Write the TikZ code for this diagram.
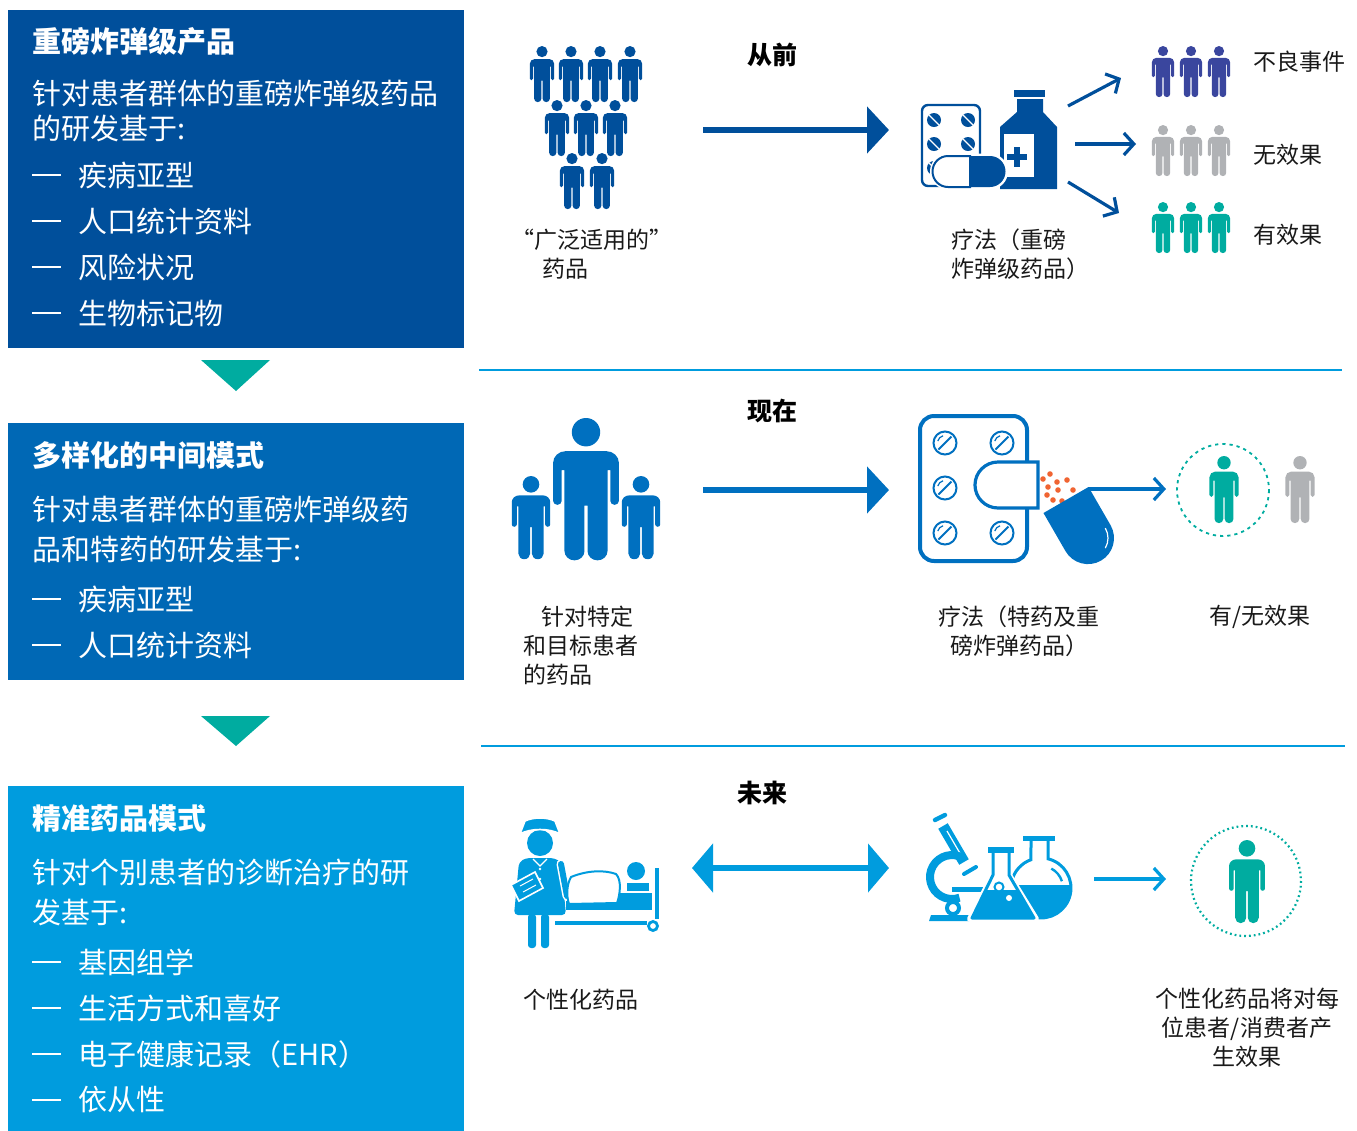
\documentclass[tikz,border=0pt]{standalone}
\usepackage{fontspec}
\setmainfont{Noto Sans CJK SC}
\usetikzlibrary{arrows.meta}

\definecolor{pastblue}{RGB}{0,79,155}
\definecolor{nowblue}{RGB}{0,104,181}
\definecolor{nowicon}{RGB}{0,112,192}
\definecolor{nextblue}{RGB}{0,156,222}
\definecolor{tealgreen}{RGB}{0,172,160}
\definecolor{advpurple}{RGB}{58,70,158}
\definecolor{nogray}{RGB}{176,178,181}
\definecolor{dotorange}{RGB}{240,100,50}

\newcommand{\manicon}[5][1]{%
  \begin{scope}[shift={(#2,#3)},xscale=#1*#4/60,yscale=#4/60]
    \fill[#5] (0,6) ellipse[x radius=6/#1,y radius=6];
    \fill[#5] (-13,35) -- (-13,19) arc[start angle=180,end angle=270,radius=5]
      -- (8,14) arc[start angle=270,end angle=360,radius=5] -- (13,35)
      arc[start angle=0,end angle=180,radius=1.7] -- (9.6,22) -- (8.5,22)
      -- (8.5,56.2) arc[start angle=0,end angle=180,radius=3.95] -- (0.6,37)
      -- (-0.6,37) -- (-0.6,56.2) arc[start angle=0,end angle=180,radius=3.95]
      -- (-8.5,22) -- (-9.6,22) -- (-9.6,35)
      arc[start angle=0,end angle=180,radius=1.7] -- cycle;
  \end{scope}}
\newcommand{\listdash}{\makebox[1.6em][l]{\rule[0.36em]{0.97em}{0.9pt}}}

\begin{document}
\begin{tikzpicture}[x=0.5pt,y=-0.5pt,
  boxtitle/.style={anchor=west,inner sep=0pt,text=white,font=\bfseries\fontsize{14.5}{17}\selectfont},
  boxtext/.style={anchor=west,inner sep=0pt,text=white,font=\fontsize{14.5}{17}\selectfont},
  rowhead/.style={inner sep=0pt,font=\bfseries\fontsize{12.5}{15}\selectfont},
  caption/.style={inner sep=0pt,text=black!90,font=\fontsize{11.5}{14.5}\selectfont},
  bigarrow/.style={line width=2.6pt,-{Triangle[length=11pt,width=23pt]}},
  thinarrow/.style={line width=1.6pt,-{Straight Barb[length=5pt,width=11pt]}}]
  \useasboundingbox (0,0) rectangle (1357,1131);

  \fill[pastblue] (8,10) rectangle (464,348);
  \fill[nowblue] (8,423) rectangle (464,680);
  \fill[nextblue] (8,786) rectangle (464,1131);
  \fill[tealgreen] (201,360) -- (270,360) -- (236,391) -- cycle;
  \fill[tealgreen] (201,716) -- (270,716) -- (236,746) -- cycle;

  \node[boxtitle] (t1) at (32,42) {重磅炸弹级产品};
  \node[boxtext] (b1a) at (32,93) {针对患者群体的重磅炸弹级药品};
  \node[boxtext] (b1b) at (32,128) {的研发基于:};
  \foreach \entry [count=\i] in {疾病亚型,人口统计资料,风险状况,生物标记物}
    \node[boxtext] (l1\i) at (32,129+46*\i) {\listdash\entry};

  \node[boxtitle] (t2) at (32,455) {多样化的中间模式};
  \node[boxtext] (b2a) at (32,509) {针对患者群体的重磅炸弹级药};
  \node[boxtext] (b2b) at (32,549) {品和特药的研发基于:};
  \foreach \entry [count=\i] in {疾病亚型,人口统计资料}
    \node[boxtext] (l2\i) at (32,553+46*\i) {\listdash\entry};

  \node[boxtitle] (t3) at (32,818) {精准药品模式};
  \node[boxtext] (b3a) at (32,872) {针对个别患者的诊断治疗的研};
  \node[boxtext] (b3b) at (32,912) {发基于:};
  \foreach \entry [count=\i] in {基因组学,生活方式和喜好,{电子健康记录（EHR）},依从性}
    \node[boxtext] (l3\i) at (32,916+46*\i) {\listdash\entry};

  \draw[nextblue, line width=1.2pt] (479,370) -- (1342,370);
  \draw[nextblue, line width=1.2pt] (481,746) -- (1345,746);

  \node[rowhead] (past) at (772,55) {从前};
  \node[rowhead] (now) at (772,411) {现在};
  \node[rowhead] (future) at (762,793) {未来};

  \foreach \px/\py in {542/46,571/46,600/46,630/46,557/100,586/100,615/100,572/153,602/153}
    \manicon{\px}{\py}{56}{pastblue};
  \node[caption, anchor=west, align=left] (crowd-txt) at (511,254) {“广泛适用的”\\\hspace*{1.35em}药品};

  \coordinate (a1s) at (703,130);
  \coordinate (a1e) at (889,130);
  \draw[pastblue, bigarrow] (a1s) -- (a1e);

  \draw[pastblue, line width=1.2pt, rounded corners=3pt] (922,105) rectangle (980,186);
  \foreach \qx/\qy in {934/120,968/120,934/144,968/144,934/168} {
    \fill[pastblue] (\qx,\qy) circle (7);
    \draw[white, line width=0.7pt] (\qx-5,\qy-5) -- (\qx+5,\qy+5);
  }
  \fill[pastblue] (1014,90) rectangle (1045,97);
  \fill[pastblue] (1017,99) -- (1043,99) -- (1043,112) -- (1057,127) -- (1057,189)
    -- (1000,189) -- (1000,127) -- (1017,112) -- cycle;
  \fill[white] (1004,134) rectangle (1034,177);
  \fill[pastblue] (1014,147) rectangle (1020,167);
  \fill[pastblue] (1007,154) rectangle (1027,160);
  \draw[white, line width=2.5pt] (948,156) -- (990,156) arc[start angle=-90,end angle=90,radius=15.5]
    -- (948,187) arc[start angle=90,end angle=270,radius=15.5] -- cycle;
  \filldraw[fill=white, draw=pastblue, line width=1pt] (970,156) -- (948,156)
    arc[start angle=270,end angle=90,radius=15.5] -- (970,187) -- cycle;
  \fill[pastblue] (970,156) -- (990,156) arc[start angle=-90,end angle=90,radius=15.5] -- (970,187) -- cycle;
  \node[caption, anchor=west, align=left] (drug-txt) at (951,254) {疗法（重磅\\炸弹级药品）};

  \coordinate (m-up) at (1068,106);
  \coordinate (g-up) at (1121,78);
  \coordinate (m-mid) at (1075,144);
  \coordinate (g-mid) at (1136,144);
  \coordinate (m-low) at (1068,182);
  \coordinate (g-low) at (1119,213);
  \draw[pastblue, thinarrow] (m-up) -- (g-up);
  \draw[pastblue, thinarrow] (m-mid) -- (g-mid);
  \draw[pastblue, thinarrow] (m-low) -- (g-low);

  \foreach \gx in {1163,1191,1219} {
    \manicon{\gx}{46}{51}{advpurple};
    \manicon{\gx}{125}{51}{nogray};
    \manicon{\gx}{202}{51}{tealgreen};
  }
  \node[caption, anchor=west] (adv-txt) at (1253,62) {不良事件};
  \node[caption, anchor=west] (none-txt) at (1253,155) {无效果};
  \node[caption, anchor=west] (good-txt) at (1253,235) {有效果};

  \manicon[1.07]{586}{418}{142}{nowicon};
  \manicon[1.07]{531}{476}{83}{nowicon};
  \manicon[1.07]{641}{476}{83}{nowicon};
  \node[caption, anchor=west, align=left] (target-txt) at (523,646) {\hspace*{0.8em}针对特定\\和目标患者\\的药品};

  \coordinate (a2s) at (703,490);
  \coordinate (a2e) at (889,490);
  \draw[nowicon, bigarrow] (a2s) -- (a2e);

  \draw[nowicon, line width=2pt, rounded corners=7pt] (920,416) rectangle (1027,561);
  \foreach \qx/\qy in {945/443,1002/443,945/488,945/533,1002/533} {
    \draw[nowicon, line width=1pt] (\qx,\qy) circle (11.5);
    \draw[nowicon, line width=1pt] (\qx-6.5,\qy+6.5) -- (\qx+6.5,\qy-6.5);
    \draw[nowicon, line width=0.6pt] (\qx,\qy) ++(195:7.5) arc[start angle=195,end angle=255,radius=7.5];
  }
  \filldraw[fill=white, draw=nowicon, line width=1.6pt] (1038,462) -- (998,462)
    arc[start angle=270,end angle=90,radius=23] -- (1038,508) -- cycle;
  \foreach \ox/\oy in {1050/474,1043/479,1057/482,1067/480,1048/487,1058/490,1047/495,1053/500,1062/501,1073/490}
    \fill[dotorange] (\ox,\oy) circle (2.8);
  \begin{scope}[shift={(1066,500)},rotate=30]
    \fill[nowicon] (-26,0) -- (-26,44) arc[start angle=180,end angle=0,radius=26] -- (26,0) -- cycle;
    \draw[white, line width=0.6pt] (20,44) arc[start angle=0,end angle=60,radius=20];
  \end{scope}
  \node[caption, align=center] (mix-txt) at (1019,631) {疗法（特药及重\\磅炸弹药品）};

  \coordinate (c2s) at (1088,489);
  \coordinate (c2e) at (1166,489);
  \draw[nowicon, thinarrow] (c2s) -- (c2e);

  \draw[tealgreen, line width=0.9pt, dash pattern=on 1.6pt off 2pt] (1223,490) circle (46);
  \manicon{1224}{456}{67}{tealgreen};
  \manicon{1300}{456}{67}{nogray};
  \node[caption] (mixed-txt) at (1260,617) {有/无效果};

  \fill[nextblue] (540,843) circle (13);
  \filldraw[fill=nextblue, draw=white, line width=0.8pt] (520,834) -- (525,821)
    .. controls (533,817) and (547,817) .. (555,821) -- (560,834)
    .. controls (550,828) and (530,828) .. (520,834) -- cycle;
  \fill[nextblue, rounded corners=2pt] (526,858) -- (554,858) -- (561,862) -- (566,915)
    -- (514,915) -- (519,862) -- cycle;
  \draw[white, line width=0.6pt] (533,859) -- (540,866) -- (547,859);
  \foreach \by in {869,879,889}
    \fill[white] (540,\by) circle (1.3);
  \draw[white, line width=4.5pt, line cap=round] (561,864) -- (567,896);
  \draw[nextblue, line width=3pt, line cap=round] (561,864) -- (567,896);
  \filldraw[fill=nextblue, draw=white, line width=0.8pt] (511,885) -- (535,872) -- (543,888) -- (519,901) -- cycle;
  \draw[white, line width=0.5pt] (520,886) -- (533,879) (523,892) -- (536,885);
  \fill[nextblue, rounded corners=1.5pt] (528,914) rectangle (536,948);
  \fill[nextblue, rounded corners=1.5pt] (541,914) rectangle (549,948);
  \draw[nextblue, line width=1.6pt] (555,923) -- (647,923);
  \draw[nextblue, line width=1.6pt] (657,868) -- (657,919);
  \draw[nextblue, line width=1.4pt] (653,926) circle (4.5);
  \fill[nextblue] (566,901) rectangle (652,910);
  \fill[nextblue] (618,893) rectangle (652,910);
  \fill[nextblue] (627,883) rectangle (649,891);
  \fill[nextblue] (636,871) circle (9);
  \filldraw[fill=white, draw=nextblue, line width=1pt] (571,877) .. controls (588,870) and (605,870) .. (616,874)
    .. controls (622,880) and (620,895) .. (617,903) -- (569,904) .. controls (566,895) and (567,884) .. (571,877) -- cycle;
  \node[caption, anchor=west] (pers-txt) at (523,1000) {个性化药品};

  \coordinate (a3s) at (692,868);
  \coordinate (a3e) at (889,868);
  \draw[nextblue, line width=3pt, {Triangle[length=10.5pt,width=24pt]}-{Triangle[length=10.5pt,width=24pt]}] (a3s) -- (a3e);

  \draw[nextblue, line width=2.2pt, line cap=round] (935,820) -- (945,815);
  \draw[nextblue, line width=5.5pt] (943,826) -- (964,862);
  \draw[white, line width=0.6pt] (947,831) -- (961,855);
  \draw[nextblue, line width=2pt, line cap=round] (964,874) -- (976,867);
  \draw[nextblue, line width=4pt] (963,858) arc[start angle=-60,end angle=-290,radius=22];
  \draw[nextblue, line width=2.5pt] (952,889) -- (986,889);
  \fill[nextblue] (931,915) -- (977,915) -- (977,921) -- (929,921) -- cycle;
  \filldraw[fill=white, draw=nextblue, line width=2pt] (953,908) circle (6);

  \fill[nextblue] (1023,836) rectangle (1055,841);
  \begin{scope}
    \clip (1000,885) rectangle (1080,922);
    \fill[nextblue] (1041,888) circle (30);
  \end{scope}
  \draw[nextblue, line width=1.5pt] (1048,841) -- (1048,858.8) arc[start angle=-76.5,end angle=250.5,radius=30] -- (1031,841);
  \draw[nextblue, line width=1.2pt] (1041,888) ++(-62:22) arc[start angle=-62,end angle=-18,radius=22];
  \filldraw[white, line width=3pt, line join=round] (993,849) -- (993,875) -- (970,919) -- (1036,919)
    -- (1009,875) -- (1009,849) -- cycle;
  \begin{scope}
    \clip (993,875) -- (972,918) -- (1034,918) -- (1009,875) -- cycle;
    \fill[nextblue] (960,890) rectangle (1040,920);
  \end{scope}
  \draw[nextblue, line width=1.5pt, line join=round] (993,852) -- (993,875) -- (972,918) -- (1034,918)
    -- (1009,875) -- (1009,852);
  \fill[nextblue] (988,847) rectangle (1014,853);
  \filldraw[fill=white, draw=nextblue, line width=1pt] (999,887) circle (4.5);
  \fill[white] (1009,898) circle (3);

  \coordinate (c3s) at (1094,879);
  \coordinate (c3e) at (1166,879);
  \draw[nextblue, thinarrow] (c3s) -- (c3e);

  \draw[tealgreen, line width=1.1pt, dash pattern=on 0.9pt off 1.5pt] (1246,881) circle (55);
  \manicon{1247}{840}{83}{tealgreen};
  \node[caption, align=center] (effect-txt) at (1247,1028) {个性化药品将对每\\位患者/消费者产\\生效果};
\end{tikzpicture}
\end{document}
